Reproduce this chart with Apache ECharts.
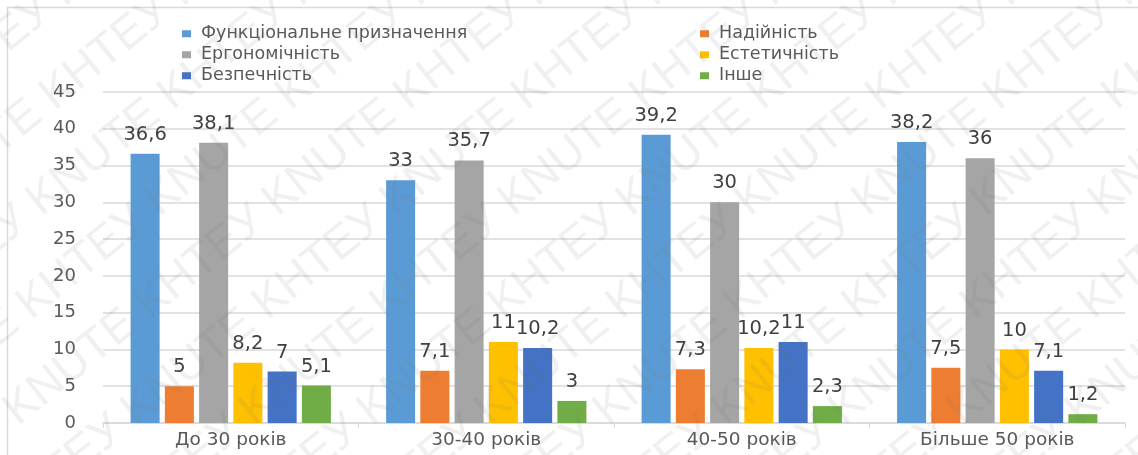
<!DOCTYPE html>
<html>
<head>
<meta charset="utf-8">
<script src="https://cdn.jsdelivr.net/npm/echarts@6/dist/echarts.min.js"></script>
<style>
  html, body { margin: 0; padding: 0; background: #fff; }
  #chart { width: 1138px; height: 455px; }
</style>
</head>
<body>
<div id="chart"></div>
<script>
// Age groups on the category axis
const categories = ['До 30 років', '30-40 років', '40-50 років', 'Більше 50 років'];

// Share of respondents (%) per criterion
const functional = [36.6, 33, 39.2, 38.2];
const reliability = [5, 7.1, 7.3, 7.5];
const ergonomics = [38.1, 35.7, 30, 36];
const aesthetics = [8.2, 11, 10.2, 10];
const safety = [7, 10.2, 11, 7.1];
const other = [5.1, 3, 2.3, 1.2];

const seriesNames = ['Функціональне призначення', 'Надійність', 'Ергономічність', 'Естетичність', 'Безпечність', 'Інше'];
const seriesData = [functional, reliability, ergonomics, aesthetics, safety, other];
const colors = ['#5B9BD5', '#ED7D31', '#A5A5A5', '#FFC000', '#4472C4', '#70AD47'];

const FONT = 'DejaVu Sans';

// Diagonal "KNUTE KHTEУ" watermark repeated across the canvas
function watermark() {
  const items = [];
  const angle = 0.68;
  const phrase = 'KHTEУ KNUTE KHTEУ KNUTE KHTEУ KNUTE KHTEУ KNUTE ';
  for (let k = -8; k <= 11; k++) {
    items.push({
      type: 'text',
      x: k * 118,
      y: 520,
      rotation: angle,
      silent: true,
      z: 100,
      style: {
        text: phrase,
        font: '300 46px "Liberation Sans"',
        fill: 'rgba(120,120,120,0.11)',
        textVerticalAlign: 'middle'
      }
    });
  }
  return items;
}

const chart = echarts.init(document.getElementById('chart'), null, { renderer: 'canvas' });

const legendCommon = {
  orient: 'vertical',
  icon: 'rect',
  itemWidth: 9,
  itemHeight: 7,
  itemGap: 1.5,
  textStyle: { fontFamily: FONT, fontSize: 17.5, color: '#595959', lineHeight: 19.5, padding: [0, 0, 0, 5] }
};

chart.setOption({
  animation: false,
  color: colors,
  textStyle: { fontFamily: FONT },
  legend: [
    Object.assign({ left: 177, top: 19, data: [seriesNames[0], seriesNames[2], seriesNames[4]] }, legendCommon),
    Object.assign({ left: 695, top: 19, data: [seriesNames[1], seriesNames[3], seriesNames[5]] }, legendCommon)
  ],
  grid: { left: 103, right: 13, top: 92, bottom: 32, containLabel: false },
  xAxis: {
    type: 'category',
    data: categories,
    axisLine: { lineStyle: { color: '#d9d9d9', width: 1.5 } },
    axisTick: { show: true, length: 5, lineStyle: { color: '#d9d9d9' } },
    axisLabel: { fontFamily: FONT, fontSize: 18.5, color: '#595959', margin: 8 }
  },
  yAxis: {
    type: 'value',
    min: 0,
    max: 45,
    interval: 5,
    axisLine: { show: false },
    axisTick: { show: false },
    axisLabel: { fontFamily: FONT, fontSize: 18, color: '#595959', margin: 27 },
    splitLine: { lineStyle: { color: '#d9d9d9', width: 1.5 } }
  },
  series: seriesNames.map((name, i) => ({
    name,
    type: 'bar',
    data: seriesData[i],
    barGap: '18%',
    barCategoryGap: '21.6%',
    itemStyle: { color: colors[i] },
    label: {
      show: true,
      position: 'top',
      distance: 9,
      fontFamily: FONT,
      fontSize: 19.5,
      color: '#404040',
      formatter: p => String(p.value).replace('.', ',')
    }
  })),
  graphic: [
    {
      type: 'rect',
      silent: true,
      shape: { x: 7.5, y: 7.5, width: 1200, height: 500 },
      style: { fill: 'none', stroke: '#d9d9d9', lineWidth: 1.5 }
    },
    ...watermark()
  ]
});
</script>
</body>
</html>
